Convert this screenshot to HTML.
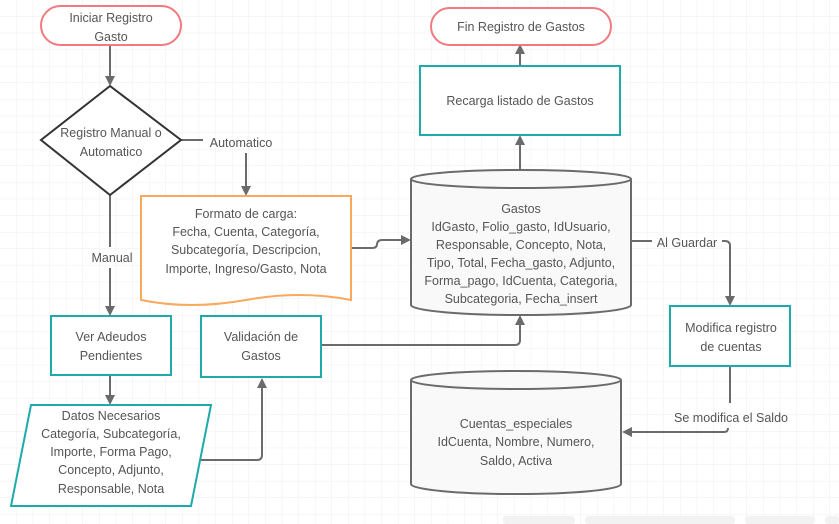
<!DOCTYPE html>
<html><head><meta charset="utf-8"><style>
html,body{margin:0;padding:0;width:839px;height:524px;overflow:hidden;background:#fff}
svg{display:block}
text{font-family:"Liberation Sans",sans-serif;font-size:12.5px;fill:#555;text-anchor:middle}
</style></head><body>
<svg width="839" height="524" viewBox="0 0 839 524" xmlns="http://www.w3.org/2000/svg">
<defs>
<pattern id="g" width="16.6" height="16.6" patternUnits="userSpaceOnUse"><path d="M16.6 0V16.6H0" fill="none" stroke="#eeeeee" stroke-width="1"/></pattern>
<marker id="a" markerWidth="10" markerHeight="10" refX="8" refY="5" orient="auto" markerUnits="userSpaceOnUse"><path d="M0 0L10 5L0 10Z" fill="#6b6b6b"/></marker>
</defs>
<rect width="839" height="524" fill="url(#g)"/>
<g fill="none" stroke="#6b6b6b" stroke-width="2">
<path d="M110 45V84" marker-end="url(#a)"/>
<path d="M181 140H203"/>
<path d="M246 153V194" marker-end="url(#a)"/>
<path d="M351 248H372Q377 248 377 244V245Q377 240 382 240H409" marker-end="url(#a)"/>
<path d="M520 170V137" marker-end="url(#a)"/>
<path d="M520 66V46" marker-end="url(#a)"/>
<path d="M110 195V247M110 268V314" marker-end="url(#a)"/>
<path d="M110 375V403" marker-end="url(#a)"/>
<path d="M195 460H257Q262 460 262 455V380" marker-end="url(#a)"/>
<path d="M321 345H515Q520 345 520 340V317" marker-end="url(#a)"/>
<path d="M631 241H652M722 241H725Q730 241 730 246V304" marker-end="url(#a)"/>
<path d="M730 366V403M728 428Q728 432 724 432H624" marker-end="url(#a)"/>
</g>
<rect x="41" y="6" width="140" height="39" rx="19.5" fill="#fff" stroke="#f07a7f" stroke-width="2"/>
<text x="111" y="22">Iniciar Registro</text><text x="111" y="41">Gasto</text>
<path d="M110 86L181 140L110 195L41 140Z" fill="#fff" stroke="#333" stroke-width="2"/>
<text x="111" y="137">Registro Manual o</text><text x="111" y="156">Automatico</text>
<text x="241" y="147">Automatico</text>
<text x="112" y="262">Manual</text>
<path d="M141 196H351V300Q300 290 246 300Q190 310 141 300Z" fill="#fff" stroke="#f9a85c" stroke-width="2"/>
<text x="246" y="218">Formato de carga:</text><text x="246" y="236">Fecha, Cuenta, Categoría,</text><text x="246" y="254">Subcategoría, Descripcion,</text><text x="246" y="273">Importe, Ingreso/Gasto, Nota</text>
<rect x="431" y="8" width="180" height="37" rx="18.5" fill="#fff" stroke="#f07a7f" stroke-width="2"/>
<text x="521" y="31">Fin Registro de Gastos</text>
<rect x="420" y="66" width="200" height="69" fill="#fff" stroke="#1eaaaa" stroke-width="2"/>
<text x="520" y="105">Recarga listado de Gastos</text>
<path d="M411 179V305A110 10 0 0 0 631 305V179A110 9 0 0 0 411 179A110 9 0 0 0 631 179" fill="#f9f9f9" stroke="#6b6b6b" stroke-width="2"/>
<text x="521" y="213">Gastos</text><text x="521" y="231">IdGasto, Folio_gasto, IdUsuario,</text><text x="521" y="249">Responsable, Concepto, Nota,</text><text x="521" y="267">Tipo, Total, Fecha_gasto, Adjunto,</text><text x="521" y="285">Forma_pago, IdCuenta, Categoria,</text><text x="521" y="303">Subcategoria, Fecha_insert</text>
<text x="687" y="247">Al Guardar</text>
<rect x="670" y="306" width="120" height="60" fill="#fff" stroke="#1eaaaa" stroke-width="2"/>
<text x="731" y="332">Modifica registro</text><text x="731" y="351">de cuentas</text>
<rect x="665" y="408" width="130" height="18" fill="#fff" opacity="0"/>
<text x="731" y="422">Se modifica el Saldo</text>
<path d="M411 380V484A105 10 0 0 0 621 484V380A105 9 0 0 0 411 380A105 9 0 0 0 621 380" fill="#f9f9f9" stroke="#6b6b6b" stroke-width="2"/>
<text x="516" y="428">Cuentas_especiales</text><text x="516" y="446">IdCuenta, Nombre, Numero,</text><text x="516" y="465">Saldo, Activa</text>
<rect x="51" y="316" width="120" height="59" fill="#fff" stroke="#1eaaaa" stroke-width="2"/>
<text x="111" y="341">Ver Adeudos</text><text x="111" y="360">Pendientes</text>
<rect x="201" y="316" width="120" height="61" fill="#fff" stroke="#1eaaaa" stroke-width="2"/>
<text x="261" y="341">Validación de</text><text x="261" y="360">Gastos</text>
<path d="M31 405H211L191 506H11Z" fill="#fff" stroke="#1eaaaa" stroke-width="2"/>
<text x="111" y="420">Datos Necesarios</text><text x="111" y="438">Categoría, Subcategoría,</text><text x="111" y="456">Importe, Forma Pago,</text><text x="111" y="474">Concepto, Adjunto,</text><text x="111" y="493">Responsable, Nota</text>
<g fill="#f2f2f2"><rect x="503" y="516" width="72" height="8" rx="3"/><rect x="585" y="516" width="150" height="8" rx="3"/><rect x="745" y="516" width="70" height="8" rx="3"/><rect x="825" y="516" width="14" height="8" rx="3"/></g>
</svg>
</body></html>
